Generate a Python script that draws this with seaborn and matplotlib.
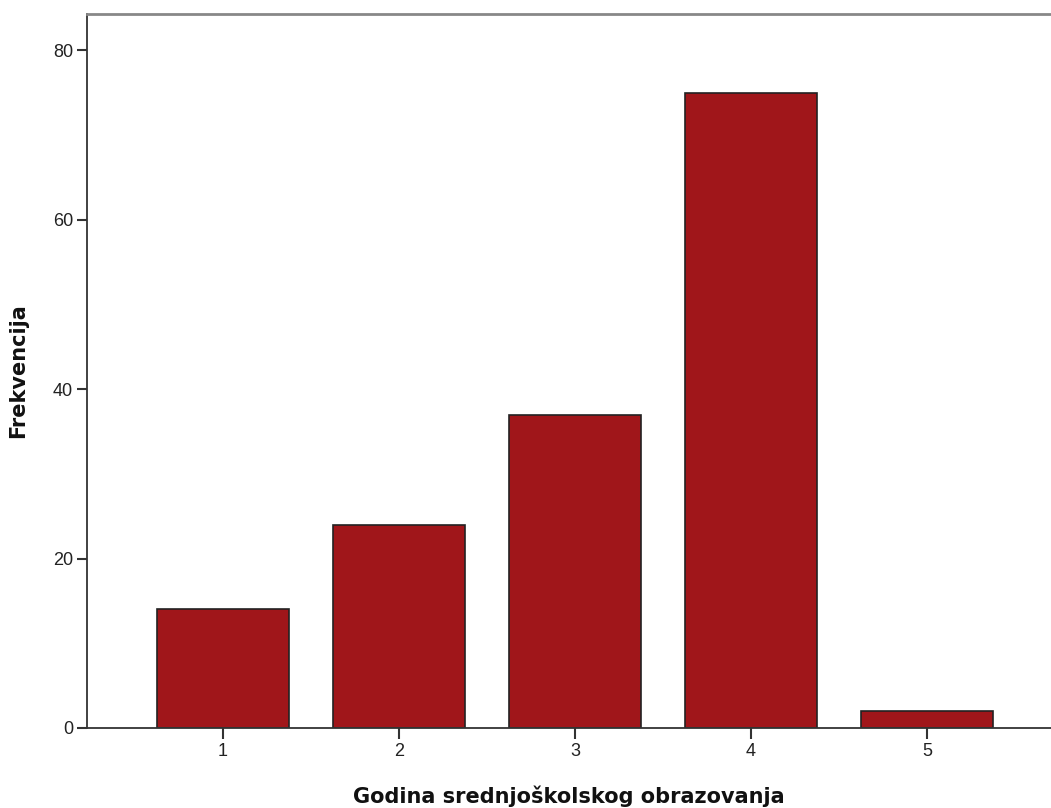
import matplotlib
matplotlib.use("Agg")
import matplotlib.pyplot as plt
import seaborn as sns
import pandas as pd

# Data
categories = ["1", "2", "3", "4", "5"]
frequencies = [14, 24, 37, 75, 2]
y_ticks = [0, 20, 40, 60, 80]

sns.set_style("white")
plt.rcParams['font.family'] = ['Liberation Sans', 'DejaVu Sans']

df = pd.DataFrame({"godina": categories, "frekvencija": frequencies})

fig = plt.figure(figsize=(10.51, 8.08), dpi=100)
ax = fig.add_axes([87 / 1051, 80 / 808, 1 - 87 / 1051, (728 - 14) / 808])

sns.barplot(data=df, x="godina", y="frekvencija", color="#A0161A",
            saturation=1, width=0.75, edgecolor="#222222", linewidth=1.2, ax=ax)

ax.set_xlim(-0.773, 4.705)
ax.set_ylim(0, 84.3)
ax.set_yticks(y_ticks)

label_font = dict(family=['DejaVu Sans'], fontsize=15, fontweight='bold', color="#111111")
ax.set_xlabel("Godina srednjoškolskog obrazovanja", labelpad=18, **label_font)
ax.set_ylabel("Frekvencija", labelpad=18, **label_font)

for side in ["left", "bottom"]:
    ax.spines[side].set_color("#333333")
    ax.spines[side].set_linewidth(1.3)
ax.spines["top"].set_color("#888888")
ax.spines["top"].set_linewidth(2)
ax.spines["right"].set_visible(False)

ax.tick_params(axis="both", which="both", direction="out", length=7, width=1.5,
               color="#333333", labelsize=13, labelcolor="#222222", pad=3)
ax.tick_params(axis="x", bottom=True, length=8)
ax.tick_params(axis="y", left=True)

fig.savefig("out.png", dpi=100)
